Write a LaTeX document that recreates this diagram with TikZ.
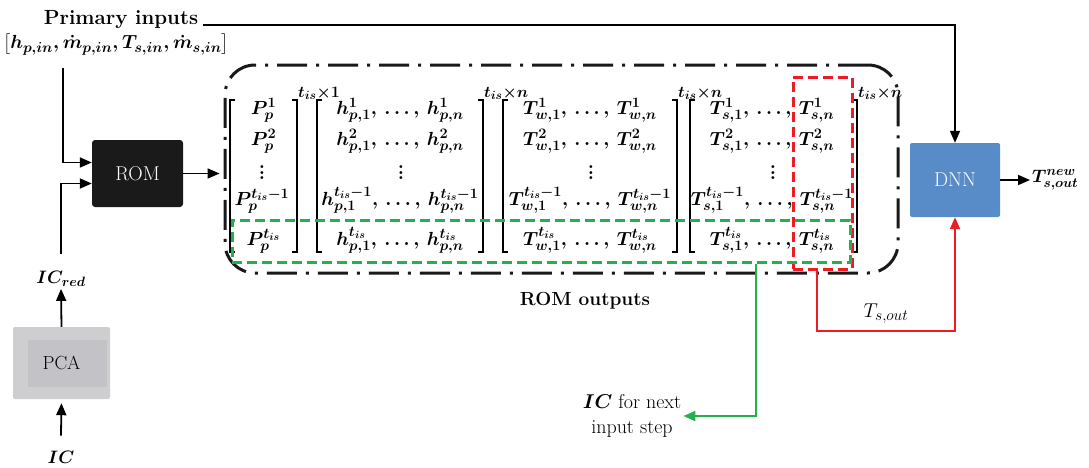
\RequirePackage{fix-cm}
\documentclass[tikz,border=0pt]{standalone}
\usepackage{amsmath}
\usepackage{bm}
\usepackage{fontspec}
\usetikzlibrary{arrows.meta}
\DeclareMathSizes{20}{20}{15.5}{11}
\DeclareMathSizes{19}{19}{14.5}{10.5}
\DeclareMathSizes{18}{18}{13.5}{10}
\DeclareMathSizes{16}{16}{12}{9}
\definecolor{myred}{RGB}{237,28,36}
\definecolor{mygreen}{RGB}{34,177,76}
\definecolor{dnnblue}{RGB}{88,140,200}
\definecolor{pcaout}{RGB}{206,206,209}
\definecolor{pcain}{RGB}{194,194,199}
\definecolor{rombox}{RGB}{26,26,26}
\newcommand\mrow[3]{#1^{#3}_{#2,1},\,\dots,\,#1^{#3}_{#2,n}}
\newcommand\myvdots{\vbox{\baselineskip=5.5pt\lineskiplimit=0pt\hbox{\bfseries .}\hbox{\bfseries .}\hbox{\bfseries .}}}
\begin{document}
\begin{tikzpicture}[x=1pt,y=-1pt,
  font=\fontsize{20}{24}\selectfont,
  arr/.style={line width=1.8pt,-{Triangle[length=12pt,width=10pt]}},
  mat/.style={font=\fontsize{19}{23}\selectfont\boldmath,anchor=base,inner sep=0pt},
  dts/.style={font=\fontsize{20}{24}\selectfont,anchor=south,inner sep=0pt},
  expo/.style={font=\fontsize{16}{18}\selectfont\boldmath,anchor=base west,inner sep=0pt},
  brk/.style={line width=1.4pt},
  lbl/.style={font=\fontsize{18}{22}\selectfont\boldmath,inner sep=2pt}]
\useasboundingbox (0,0) rectangle (1089,467);

% texts at top
\node[anchor=base,inner sep=0pt,font=\fontsize{20.5}{24}\selectfont\bfseries] (prim) at (121,24) {Primary inputs};
\node[inner sep=2pt,font=\fontsize{19}{22}\selectfont\boldmath] (vec) at (116,44) {$\big[h_{p,in},\dot{m}_{p,in},T_{s,in},\dot{m}_{s,in}\big]$};

% blocks
\node[fill=rombox,text=white,rounded corners=3pt,minimum width=91pt,minimum height=67pt,inner sep=0pt] (rom) at (137.5,173.5) {ROM};
\node[fill=pcaout,rounded corners=2pt,minimum width=97pt,minimum height=72pt,inner sep=0pt] (pca) at (61.5,363) {};
\fill[pcain] (28,340) rectangle (107,387);
\node[inner sep=0pt,font=\fontsize{19}{22}\selectfont] (pcat) at (61.5,363) {PCA};
\node[fill=dnnblue,text=white,rounded corners=2pt,minimum width=90pt,minimum height=74pt,inner sep=0pt] (dnn) at (955,180) {DNN};

\node[lbl] (icred) at (61,279) {$IC_{red}$};
\node[lbl] (ic) at (61,457) {$IC$};
\node[lbl,anchor=west] (tnew) at (1030,180) {$T^{new}_{s,out}$};
\node[inner sep=2pt,font=\fontsize{20}{24}\selectfont] (tsout) at (886,314) {$T_{s,out}$};
\node[anchor=base,inner sep=0pt,font=\fontsize{19}{22}\selectfont\bfseries] (romout) at (585,305) {ROM outputs};
\node[align=center,inner sep=2pt,font=\fontsize{20}{25}\selectfont] (icnext) at (632,416) {$\bm{IC}$ for next\\input step};

% outer dash-dot box
\node[draw=black!90,line width=3pt,dash pattern=on 30pt off 9pt on 3pt off 9pt,rounded corners=30pt,minimum width=673pt,minimum height=208pt,inner sep=0pt] (outbox) at (561.5,169) {};

% matrix brackets
\foreach \a/\b in {230/297,317/483,503/677,690/857}{
  \draw[brk] (\a+5,100) -- (\a,100) -- (\a,252) -- (\a+5,252);
  \draw[brk] (\b-5,100) -- (\b,100) -- (\b,252) -- (\b-5,252);
}
% matrix 1
\node[mat] (a1) at (263.5,114) {$P_p^{1}$};
\node[mat] (a2) at (263.5,145) {$P_p^{2}$};
\node[dts] (a3) at (262,180) {\myvdots};
\node[mat] (a4) at (262,205) {$P_p^{t_{is}-1}$};
\node[mat] (a5) at (263.5,245) {$P_p^{t_{is}}$};
% matrices 2-4
\foreach \cx/\L/\s/\nm in {400/h/p/b,590/T/w/c,772/T/s/d}{
  \node[mat] (\nm1) at (\cx,114) {$\mrow{\L}{\s}{1}$};
  \node[mat] (\nm2) at (\cx,145) {$\mrow{\L}{\s}{2}$};
  \node[dts] (\nm3) at (\cx+1,180) {\myvdots};
  \node[mat] (\nm4) at (\cx,205) {$\mrow{\L}{\s}{t_{is}-1}$};
  \node[mat] (\nm5) at (\cx,245) {$\mrow{\L}{\s}{t_{is}}$};
}
\node[expo] (e1) at (298,97) {$t_{is}{\times}1$};
\node[expo] (e2) at (484,97) {$t_{is}{\times}n$};
\node[expo] (e3) at (678,97) {$t_{is}{\times}n$};
\node[expo] (e4) at (858,97) {$t_{is}{\times}n$};

% highlight boxes
\node[draw=myred,line width=3pt,dash pattern=on 10pt off 5pt,minimum width=59pt,minimum height=192pt,inner sep=0pt] (redbox) at (822.5,173) {};
\node[draw=mygreen,line width=3pt,dash pattern=on 10pt off 5pt,minimum width=618pt,minimum height=42pt,inner sep=0pt] (greenbox) at (541,241) {};

% connectors
\coordinate (pstart) at (203,25);
\draw[arr] (pstart) -| (dnn.north);
\coordinate (vstart) at (63,68);
\draw[arr] (vstart) |- ([yshift=11pt]rom.west);
\draw[arr] ([yshift=15pt]icred.north) |- ([yshift=-10pt]rom.west);
\draw[arr] (pca.north) -- (icred.south);
\draw[arr,shorten >=4pt] ([yshift=13pt]ic.north) -- (pca.south);
\draw[arr,shorten >=4pt] (rom.east) -- (rom.east -| outbox.west);
\draw[arr] (dnn.east) -- (tnew.west);
\draw[myred,line width=2pt,-{Triangle[length=12pt,width=10pt]}] ([xshift=-5.5pt]redbox.south) -- ++(0,60) -| (dnn.south);
\draw[mygreen,line width=2pt,-{Triangle[length=12pt,width=10pt]}] ([xshift=215pt]greenbox.south) |- (icnext.east);
\end{tikzpicture}
\end{document}
